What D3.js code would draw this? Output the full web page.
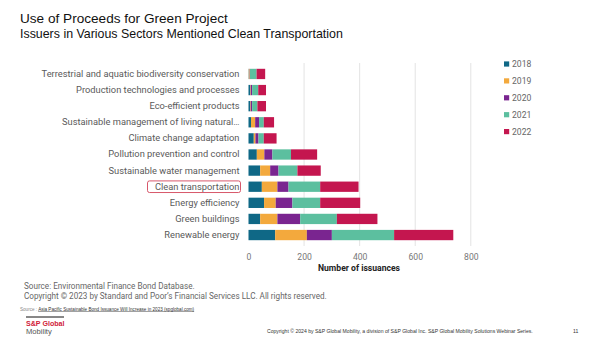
<!DOCTYPE html>
<html>
<head>
<meta charset="utf-8">
<script src="https://cdn.jsdelivr.net/npm/d3@7"></script>
<style>
  html, body { margin: 0; padding: 0; background: #fff; }
  svg { display: block; }
</style>
</head>
<body>
<svg id="chart" width="602" height="339"></svg>
<script>
// Sectors, top to bottom
const categories = [
  "Terrestrial and aquatic biodiversity conservation",
  "Production technologies and processes",
  "Eco-efficient products",
  "Sustainable management of living natural\u2026",
  "Climate change adaptation",
  "Pollution prevention and control",
  "Sustainable water management",
  "Clean transportation",
  "Energy efficiency",
  "Green buildings",
  "Renewable energy"
];
const years = ["2018", "2019", "2020", "2021", "2022"];
// Number of issuances per sector, one array per year (same order as categories)
const v2018 = [1, 6, 6, 9, 19, 30, 42, 48, 56, 42, 96];
const v2019 = [3, 2, 2, 15, 6, 27, 36, 56, 42, 62, 114];
const v2020 = [1, 5, 5, 14, 11, 29, 30, 40, 60, 82, 90];
const v2021 = [24, 22, 19, 17, 19, 67, 68, 114, 100, 132, 224];
const v2022 = [31, 28, 31, 37, 46, 94, 84, 138, 144, 146, 213];
const xTicks = [0, 200, 400, 600, 800];
const colors = ["#0f6886", "#f3a93d", "#7a2590", "#5cbf9f", "#c4164f"];

const series = [v2018, v2019, v2020, v2021, v2022];
const rows = categories.map((c, i) => {
  const r = { category: c };
  years.forEach((y, k) => { r[y] = series[k][i]; });
  return r;
});

const svg = d3.select("#chart");
const x = d3.scaleLinear().domain([0, 800]).range([248.5, 470.8]);
const y = d3.scaleBand().domain(categories).range([63, 246]).paddingInner(0.36).paddingOuter(0.36);
const color = d3.scaleOrdinal().domain(years).range(colors);

// Titles
svg.append("text").attr("x", 20).attr("y", 23)
  .style("font-family", "'Liberation Sans', Arial, sans-serif").style("font-size", "13.6px").attr("fill", "#111")
  .text("Use of Proceeds for Green Project");
svg.append("text").attr("x", 20).attr("y", 37.5)
  .style("font-family", "'Liberation Sans', Arial, sans-serif").style("font-size", "12.4px").attr("fill", "#111")
  .text("Issuers in Various Sectors Mentioned Clean Transportation");

// Gridlines
svg.append("g").selectAll("line").data(xTicks.slice(1)).join("line")
  .attr("x1", d => x(d)).attr("x2", d => x(d))
  .attr("y1", 63).attr("y2", 246)
  .attr("stroke", "#e3e3e3").attr("stroke-width", 1);

// Stacked bars
const stack = d3.stack().keys(years)(rows);
svg.append("g").selectAll("g").data(stack).join("g")
  .attr("fill", d => color(d.key))
  .selectAll("rect").data(d => d).join("rect")
  .attr("x", d => x(d[0]))
  .attr("width", d => x(d[1]) - x(d[0]))
  .attr("y", d => y(d.data.category))
  .attr("height", y.bandwidth());

// Category labels
const yAxis = d3.axisLeft(y).tickSize(0).tickPadding(9);
const yg = svg.append("g").attr("transform", `translate(${x(0)},0)`).call(yAxis);
yg.select(".domain").remove();
yg.selectAll("text")
  .style("font-family", "Roboto, 'Open Sans', sans-serif").style("font-size", "9.3px").attr("fill", "#5a5a5a");

// Highlight box around clean transportation
const ct = "Clean transportation";
svg.append("rect")
  .attr("x", 147.5).attr("y", y(ct) + y.bandwidth() / 2 - 5.8)
  .attr("width", 93).attr("height", 11.6).attr("rx", 2)
  .attr("fill", "none").attr("stroke", "#d2455a").attr("stroke-width", 0.9);

// X axis
const xAxis = d3.axisBottom(x).tickValues(xTicks).tickSize(0).tickPadding(6);
const xg = svg.append("g").attr("transform", "translate(0,248)").call(xAxis);
xg.select(".domain").remove();
xg.selectAll("text")
  .style("font-family", "Roboto, 'Open Sans', sans-serif").style("font-size", "8.6px").attr("fill", "#777");
svg.append("text").attr("x", 359).attr("y", 271).attr("text-anchor", "middle")
  .style("font-family", "Roboto, 'Open Sans', sans-serif").style("font-size", "8.6px").style("font-weight", "bold")
  .attr("fill", "#222").text("Number of issuances");

// Legend
const lg = svg.append("g").selectAll("g").data(years).join("g")
  .attr("transform", (d, i) => `translate(504,${64 + i * 16.9})`);
lg.append("rect").attr("x", 0).attr("y", -2.6).attr("width", 5.2).attr("height", 5.2).attr("fill", d => color(d));
lg.append("text").attr("x", 8).attr("y", 3.2)
  .style("font-family", "Roboto, 'Open Sans', sans-serif").style("font-size", "8.6px").attr("fill", "#666")
  .text(d => d);

// Source notes
const note = svg.append("g").style("font-family", "Roboto, 'Open Sans', sans-serif").attr("fill", "#666");
note.append("text").attr("x", 24).attr("y", 288.5).style("font-size", "8.15px")
  .text("Source: Environmental Finance Bond Database.");
note.append("text").attr("x", 24).attr("y", 298.5).style("font-size", "8.15px")
  .text("Copyright \u00a9 2023 by Standard and Poor\u2019s Financial Services LLC. All rights reserved.");
const small = svg.append("text").attr("x", 20).attr("y", 310.5)
  .style("font-family", "'Liberation Sans', Arial, sans-serif").style("font-size", "4.6px").attr("fill", "#888");
small.append("tspan").text("Source : ");
small.append("tspan").attr("fill", "#333").style("text-decoration", "underline")
  .text("Asia Pacific Sustainable Bond Issuance Will Increase in 2023 (spglobal.com)");

// Footer branding
svg.append("line").attr("x1", 26).attr("x2", 64).attr("y1", 317).attr("y2", 317)
  .attr("stroke", "#111").attr("stroke-width", 1);
svg.append("text").attr("x", 26).attr("y", 325.5)
  .style("font-family", "'Liberation Sans', Arial, sans-serif").style("font-size", "7.1px").style("font-weight", "bold")
  .attr("fill", "#d0213a").text("S&P Global");
svg.append("text").attr("x", 26).attr("y", 334)
  .style("font-family", "'Liberation Sans', Arial, sans-serif").style("font-size", "7.6px")
  .attr("fill", "#555").text("Mobility");
svg.append("text").attr("x", 267).attr("y", 333)
  .style("font-family", "'Liberation Sans', Arial, sans-serif").style("font-size", "5.1px").attr("fill", "#333")
  .text("Copyright \u00a9 2024 by S&P Global Mobility, a division of S&P Global Inc.   S&P Global Mobility Solutions Webinar Series.");
svg.append("text").attr("x", 573).attr("y", 333)
  .style("font-family", "'Liberation Sans', Arial, sans-serif").style("font-size", "5.1px").attr("fill", "#333")
  .text("11");
</script>
</body>
</html>
